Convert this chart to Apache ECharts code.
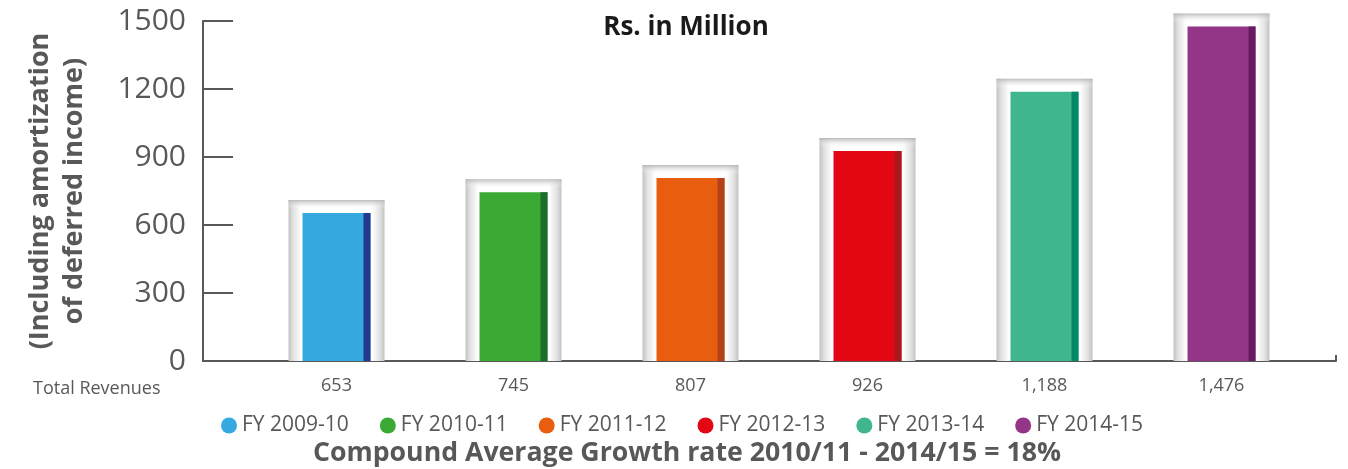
<!DOCTYPE html>
<html>
<head>
<meta charset="utf-8">
<script src="https://cdn.jsdelivr.net/npm/echarts@6/dist/echarts.min.js"></script>
<style>
  html, body { margin: 0; padding: 0; background: #fff; }
  #chart { width: 1348px; height: 469px; }
</style>
</head>
<body>
<div id="chart"></div>
<script>
var years = ['FY 2009-10', 'FY 2010-11', 'FY 2011-12', 'FY 2012-13', 'FY 2013-14', 'FY 2014-15'];
var revenues = [653, 745, 807, 926, 1188, 1476];
var mainColors = ['#36a9e1', '#3aaa35', '#e95d0f', '#e30613', '#3fb68e', '#943687'];
var stripColors = ['#233a8c', '#1b6e2c', '#b3421b', '#a8191f', '#00876a', '#661a63'];
var yTicks = [0, 300, 600, 900, 1200, 1500];

var chart = echarts.init(document.getElementById('chart'));
var font = '"Open Sans", sans-serif';
var grey = '#585858';

function renderBar(params, api) {
    var i = params.seriesIndex;
    var top = api.coord([api.value(0), api.value(1)]);
    var base = api.coord([api.value(0), 0]);
    var cx = top[0];
    var frameTop = top[1] - 13;
    var fh = base[1] - frameTop;
    var bh = base[1] - top[1];
    var sideGrad = new echarts.graphic.LinearGradient(0, 0, 1, 0, [
        { offset: 0, color: '#c2c2c2' },
        { offset: 0.05, color: '#e2e2e2' },
        { offset: 0.13, color: '#ffffff' },
        { offset: 0.87, color: '#ffffff' },
        { offset: 0.95, color: '#e2e2e2' },
        { offset: 1, color: '#c2c2c2' }
    ]);
    var topGrad = new echarts.graphic.LinearGradient(0, 0, 0, 1, [
        { offset: 0, color: 'rgba(180,180,180,0.9)' },
        { offset: 1, color: 'rgba(255,255,255,0)' }
    ]);
    return {
        type: 'group',
        children: [
            { type: 'rect', shape: { x: cx - 48, y: frameTop, width: 96, height: fh }, style: { fill: sideGrad } },
            { type: 'rect', shape: { x: cx - 48, y: frameTop, width: 96, height: 9 }, style: { fill: topGrad } },
            { type: 'rect', shape: { x: cx - 34, y: top[1], width: 68, height: bh }, style: { fill: mainColors[i] } },
            { type: 'rect', shape: { x: cx + 27, y: top[1], width: 7, height: bh }, style: { fill: stripColors[i] } }
        ]
    };
}

var series = years.map(function (name, i) {
    return {
        name: name,
        type: 'custom',
        xAxisIndex: 1,
        yAxisIndex: 1,
        color: mainColors[i],
        renderItem: renderBar,
        encode: { x: 0, y: 1 },
        data: [[i, revenues[i]]],
        z: 3
    };
});

var option = {
    animation: false,
    title: [
        { text: 'Rs. in Million', left: 681, top: 10, textAlign: 'center',
          textStyle: { fontFamily: font, fontSize: 26, fontWeight: 'bold', color: '#1a1a1a' } },
        { text: 'Total Revenues', left: 28, top: 375,
          textStyle: { fontFamily: font, fontSize: 18, fontWeight: 'normal', color: grey } },
        { text: 'Compound Average Growth rate 2010/11 - 2014/15 = 18%', left: 682, top: 435, textAlign: 'center',
          textStyle: { fontFamily: font, fontSize: 26.7, fontWeight: 'bold', color: grey } }
    ],
    legend: {
        data: years,
        left: 216,
        top: 410,
        icon: 'circle',
        itemWidth: 16,
        itemHeight: 16,
        itemGap: 31,
        textStyle: { fontFamily: font, fontSize: 21, color: grey }
    },
    grid: [
        { left: 203, right: 12, top: 21, bottom: 108 },
        { left: 248, right: 38, top: 21, bottom: 108 }
    ],
    xAxis: [
        { type: 'value', gridIndex: 0, min: 0, max: 1, interval: 1,
          axisLine: { show: true, lineStyle: { color: grey, width: 2 } },
          axisTick: { show: true, inside: true, length: 6, lineStyle: { color: grey, width: 2 } },
          axisLabel: { show: false }, splitLine: { show: false } },
        { type: 'category', gridIndex: 1, data: revenues.map(function (v) { return v.toLocaleString('en-US'); }),
          axisLine: { show: false }, axisTick: { show: false },
          axisLabel: { fontFamily: font, fontSize: 18, color: grey, margin: 16 } }
    ],
    yAxis: [
        { type: 'value', gridIndex: 0, min: yTicks[0], max: yTicks[yTicks.length - 1], interval: 300,
          name: '(Including amortization\nof deferred income)',
          nameLocation: 'middle', nameGap: 112, nameRotate: 90,
          nameTextStyle: { fontFamily: font, fontSize: 27, fontWeight: 'bold', color: grey, lineHeight: 34 },
          axisLine: { show: true, lineStyle: { color: grey, width: 2 } },
          axisTick: { show: true, inside: true, length: 30, lineStyle: { color: grey, width: 2 } },
          axisLabel: { fontFamily: font, fontSize: 30, color: grey, margin: 17,
                       formatter: function (v) { return String(v); } },
          splitLine: { show: false } },
        { type: 'value', gridIndex: 1, min: yTicks[0], max: yTicks[yTicks.length - 1], interval: 300,
          show: false }
    ],
    series: series
};

chart.setOption(option);
</script>
</body>
</html>
